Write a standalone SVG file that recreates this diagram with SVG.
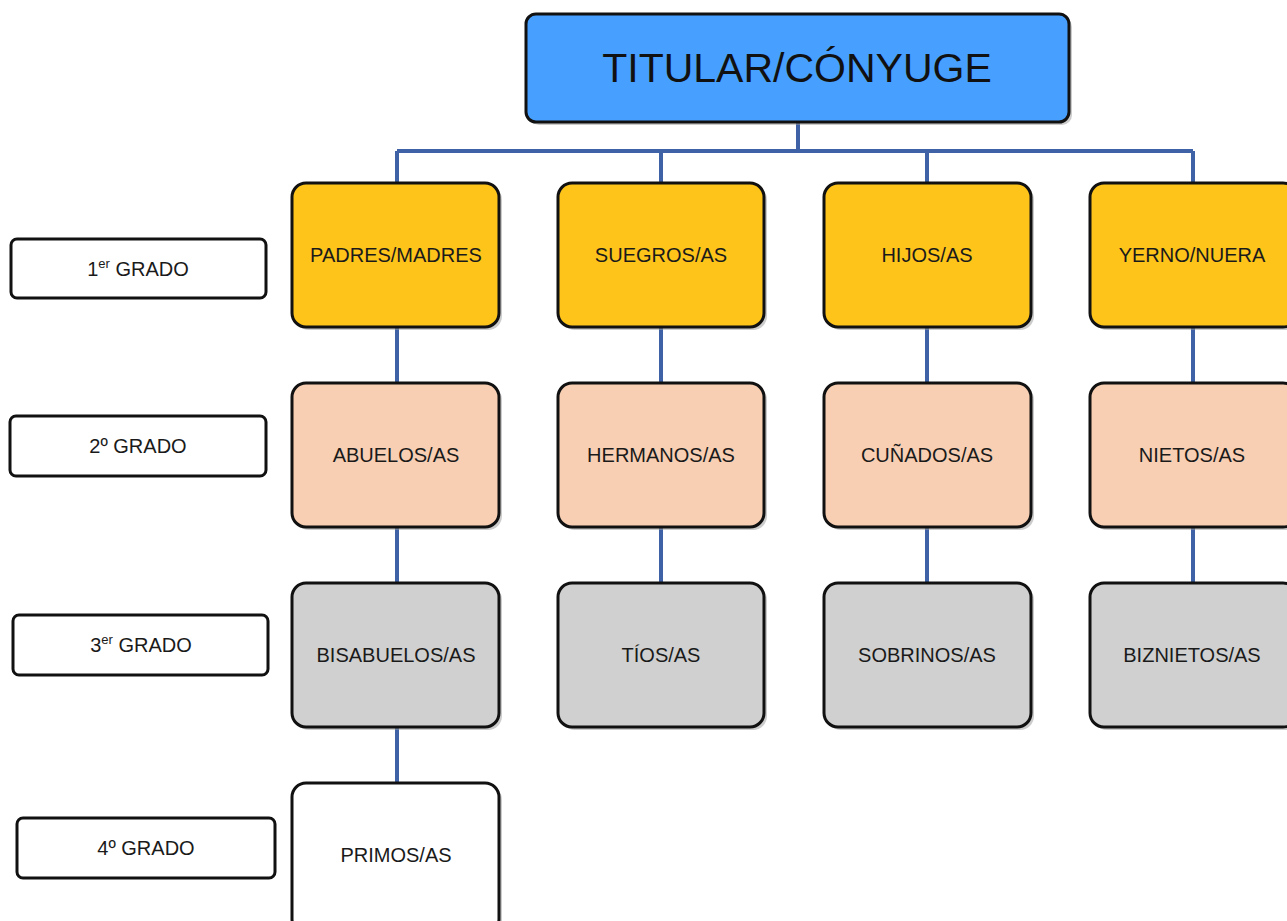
<svg xmlns="http://www.w3.org/2000/svg" width="1287" height="921" viewBox="0 0 1287 921">
<defs>
<style>
.box{stroke:#111;stroke-width:3}
.sh{fill:#9a9a9a;opacity:0.5}
.t{font-family:"Liberation Sans",Arial,sans-serif;font-size:20px;fill:#1a1a1a;text-anchor:middle}
.big{font-family:"Liberation Sans",Arial,sans-serif;font-size:41px;fill:#111;text-anchor:middle}
.y{fill:#FEC41A}.p{fill:#F8CFB3}.g{fill:#D0D0D0}.w{fill:#fff}.b{fill:#47A0FF}
.c{stroke:#3F62A6;stroke-width:4;fill:none}
</style>
</defs>
<rect width="1287" height="921" fill="#fff"/>
<g id="connectors">
<path class="c" d="M798 122V151M397 151H1193M397 151V183M661 151V183M927 151V183M1193 151V183"/>
<path class="c" d="M397 327V383M661 327V383M927 327V383M1193 327V383"/>
<path class="c" d="M397 527V583M661 527V583M927 527V583M1193 527V583"/>
<path class="c" d="M397 727V783"/>
</g>
<g id="titular">
<rect class="sh" x="529" y="17" width="543" height="108" rx="10"/>
<rect class="box b" x="526" y="14" width="543" height="108" rx="10"/>
<text class="big" x="797" y="82">TITULAR/CÓNYUGE</text>
</g>
<g id="padres"><rect class="sh" x="295" y="186" width="207" height="144" rx="14"/><rect class="box y" x="292" y="183" width="207" height="144" rx="14"/><text class="t" x="396" y="262">PADRES/MADRES</text></g>
<g id="suegros"><rect class="sh" x="561" y="186" width="206" height="144" rx="14"/><rect class="box y" x="558" y="183" width="206" height="144" rx="14"/><text class="t" x="661" y="262">SUEGROS/AS</text></g>
<g id="hijos"><rect class="sh" x="827" y="186" width="207" height="144" rx="14"/><rect class="box y" x="824" y="183" width="207" height="144" rx="14"/><text class="t" x="927" y="262">HIJOS/AS</text></g>
<g id="yerno"><rect class="sh" x="1093" y="186" width="207" height="144" rx="14"/><rect class="box y" x="1090" y="183" width="207" height="144" rx="14"/><text class="t" x="1192" y="262">YERNO/NUERA</text></g>
<g id="abuelos"><rect class="sh" x="295" y="386" width="207" height="144" rx="14"/><rect class="box p" x="292" y="383" width="207" height="144" rx="14"/><text class="t" x="396" y="462">ABUELOS/AS</text></g>
<g id="hermanos"><rect class="sh" x="561" y="386" width="206" height="144" rx="14"/><rect class="box p" x="558" y="383" width="206" height="144" rx="14"/><text class="t" x="661" y="462">HERMANOS/AS</text></g>
<g id="cunados"><rect class="sh" x="827" y="386" width="207" height="144" rx="14"/><rect class="box p" x="824" y="383" width="207" height="144" rx="14"/><text class="t" x="927" y="462">CUÑADOS/AS</text></g>
<g id="nietos"><rect class="sh" x="1093" y="386" width="207" height="144" rx="14"/><rect class="box p" x="1090" y="383" width="207" height="144" rx="14"/><text class="t" x="1192" y="462">NIETOS/AS</text></g>
<g id="bisabuelos"><rect class="sh" x="295" y="586" width="207" height="144" rx="14"/><rect class="box g" x="292" y="583" width="207" height="144" rx="14"/><text class="t" x="396" y="662">BISABUELOS/AS</text></g>
<g id="tios"><rect class="sh" x="561" y="586" width="206" height="144" rx="14"/><rect class="box g" x="558" y="583" width="206" height="144" rx="14"/><text class="t" x="661" y="662">TÍOS/AS</text></g>
<g id="sobrinos"><rect class="sh" x="827" y="586" width="207" height="144" rx="14"/><rect class="box g" x="824" y="583" width="207" height="144" rx="14"/><text class="t" x="927" y="662">SOBRINOS/AS</text></g>
<g id="biznietos"><rect class="sh" x="1093" y="586" width="207" height="144" rx="14"/><rect class="box g" x="1090" y="583" width="207" height="144" rx="14"/><text class="t" x="1192" y="662">BIZNIETOS/AS</text></g>
<g id="primos"><rect class="sh" x="295" y="786" width="207" height="150" rx="14"/><rect class="box w" x="292" y="783" width="207" height="150" rx="14"/><text class="t" x="396" y="862">PRIMOS/AS</text></g>
<g id="grado1"><rect class="box w" x="11" y="239" width="255" height="59" rx="6"/><text class="t" x="138" y="276">1<tspan font-size="13" dy="-8">er</tspan><tspan dy="8"> GRADO</tspan></text></g>
<g id="grado2"><rect class="box w" x="10" y="416" width="256" height="60" rx="6"/><text class="t" x="138" y="453">2º GRADO</text></g>
<g id="grado3"><rect class="box w" x="13" y="615" width="255" height="60" rx="6"/><text class="t" x="141" y="652">3<tspan font-size="13" dy="-8">er</tspan><tspan dy="8"> GRADO</tspan></text></g>
<g id="grado4"><rect class="box w" x="17" y="818" width="258" height="60" rx="6"/><text class="t" x="146" y="855">4º GRADO</text></g>
</svg>
